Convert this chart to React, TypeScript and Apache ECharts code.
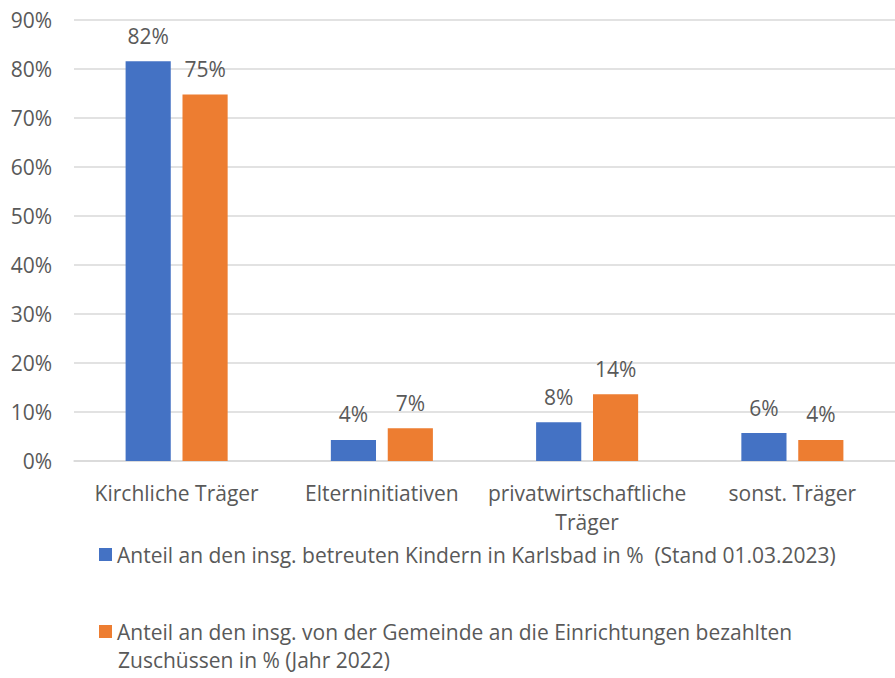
import React, { useEffect, useRef } from "react";
import * as echarts from "echarts";

const categories = ["Kirchliche Träger", "Elterninitiativen", "privatwirtschaftliche\nTräger", "sonst. Träger"];
const seriesNames = [
  "Anteil an den insg. betreuten Kindern in Karlsbad in %  (Stand 01.03.2023)",
  "Anteil an den insg. von der Gemeinde an die Einrichtungen bezahlten Zuschüssen in % (Jahr 2022)",
];
const kinderValues = [81.6, 4.3, 7.9, 5.7];
const zuschussValues = [74.8, 6.7, 13.6, 4.3];
const yTicks = { min: 0, max: 90, interval: 10 };

const FONT = "Open Sans";
const TXT = "#595959";
const FS = 21;

export default function App() {
  const ref = useRef<HTMLDivElement>(null);
  useEffect(() => {
    if (!ref.current) return;
    const chart = echarts.init(ref.current, undefined, { renderer: "svg" });
    const label = {
      show: true,
      position: "top" as const,
      distance: 15,
      color: TXT,
      fontFamily: FONT,
      fontSize: FS,
      formatter: (p: any) => Math.round(p.value) + "%",
    };
    chart.setOption({
      animation: false,
      backgroundColor: "#ffffff",
      textStyle: { fontFamily: FONT },
      grid: { left: 74, top: 20, width: 828, height: 441, containLabel: false },
      xAxis: {
        type: "category",
        data: categories,
        axisLine: { show: true, lineStyle: { color: "#d9d9d9", width: 1.5 } },
        axisTick: { show: false },
        axisLabel: { color: TXT, fontFamily: FONT, fontSize: FS, margin: 17, lineHeight: 29, interval: 0 },
      },
      yAxis: {
        type: "value",
        min: yTicks.min,
        max: yTicks.max,
        interval: yTicks.interval,
        axisLine: { show: false },
        axisTick: { show: false },
        splitLine: { lineStyle: { color: "#d9d9d9", width: 1.5 } },
        axisLabel: { color: TXT, fontFamily: FONT, fontSize: FS, margin: 22, formatter: "{value}%" },
      },
      legend: [
        {
          data: [seriesNames[0]],
          left: 99,
          top: 544,
          padding: 0,
          itemWidth: 13,
          itemHeight: 13,
          itemGap: 6,
          icon: "rect",
          textStyle: { color: TXT, fontFamily: FONT, fontSize: FS },
        },
        {
          data: [seriesNames[1]],
          left: 99,
          top: 621,
          padding: 0,
          itemWidth: 13,
          itemHeight: 13,
          itemGap: 6,
          icon: "rect",
          formatter: () => "Anteil an den insg. von der Gemeinde an die Einrichtungen bezahlten",
          textStyle: { color: TXT, fontFamily: FONT, fontSize: FS },
        },
      ],
      graphic: [
        {
          type: "text",
          left: 118,
          top: 649,
          style: { text: "Zuschüssen in % (Jahr 2022)", fill: TXT, font: `${FS}px "${FONT}"` },
        },
      ],
      series: [
        {
          name: seriesNames[0],
          type: "bar",
          data: kinderValues,
          barWidth: "22%",
          barGap: "26%",
          itemStyle: { color: "#4472C4" },
          label,
        },
        {
          name: seriesNames[1],
          type: "bar",
          data: zuschussValues,
          barWidth: "22%",
          barGap: "26%",
          itemStyle: { color: "#ED7D31" },
          label,
        },
      ],
    });
    return () => chart.dispose();
  }, []);
  return <div ref={ref} style={{ position: "fixed", left: 0, top: 0, width: 895, height: 678 }} />;
}
